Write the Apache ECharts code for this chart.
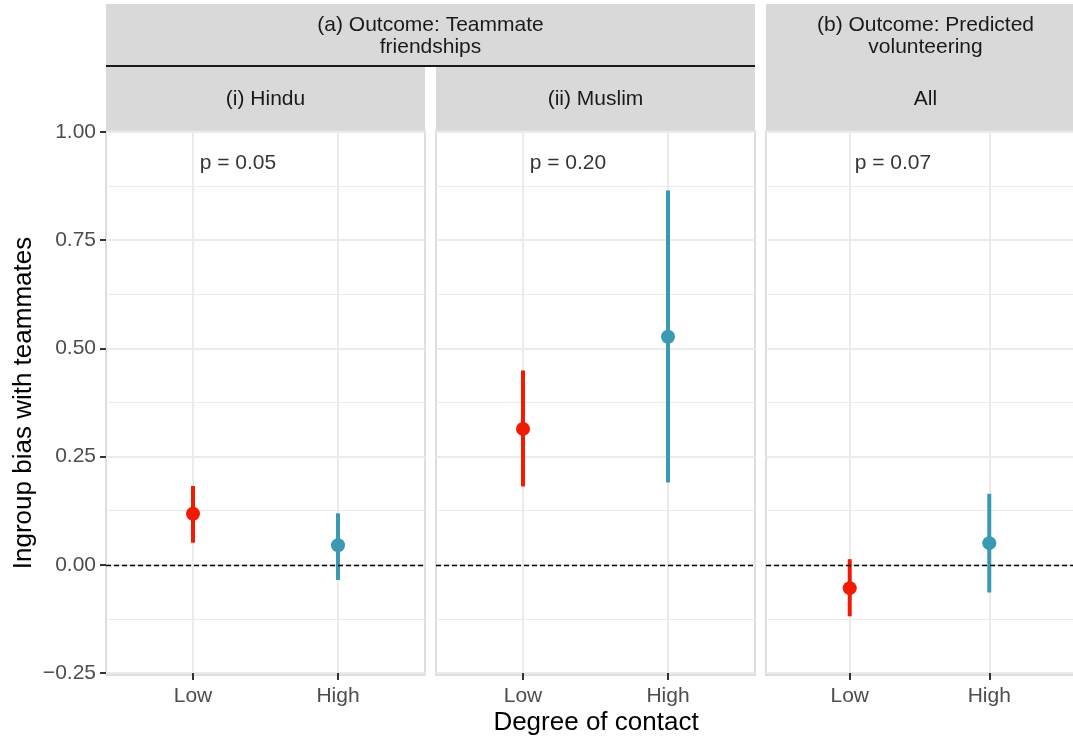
<!DOCTYPE html>
<html>
<head>
<meta charset="utf-8">
<title>Ingroup bias with teammates by degree of contact</title>
<script src="https://cdn.jsdelivr.net/npm/echarts@6/dist/echarts.min.js"></script>
<style>
  html, body { margin: 0; padding: 0; background: #ffffff; }
  #chart { width: 1073px; height: 741px; }
</style>
</head>
<body>
<div id="chart"></div>
<script>
// Contact levels on the horizontal axis
const categories = ['Low', 'High'];

// Facet labels
const panelLabels = ['(i) Hindu', '(ii) Muslim', 'All'];
const outcomeA = '(a) Outcome: Teammate\nfriendships';
const outcomeB = '(b) Outcome: Predicted\nvolunteering';

// Point estimates (Low, High) per panel
const estHindu = [0.118, 0.045];
const estMuslim = [0.314, 0.527];
const estAll = [-0.054, 0.050];

// Lower ends of the intervals
const lowHindu = [0.051, -0.035];
const lowMuslim = [0.181, 0.190];
const lowAll = [-0.119, -0.064];

// Upper ends of the intervals
const highHindu = [0.182, 0.119];
const highMuslim = [0.449, 0.865];
const highAll = [0.013, 0.164];

// Difference tests shown in each panel
const pLabels = ['p = 0.05', 'p = 0.20', 'p = 0.07'];
const pLabelPos = [1.31, 0.927];

// Y axis ticks
const yTicks = [-0.25, 0, 0.25, 0.5, 0.75, 1.0];

const colors = ['#F21A00', '#3B9AB2'];
const FONT = '"Liberation Sans", Arial, Helvetica, sans-serif';

const estimates = [estHindu, estMuslim, estAll];
const lows = [lowHindu, lowMuslim, lowAll];
const highs = [highHindu, highMuslim, highAll];

// Panel geometry (pixels)
const panelLefts = [106, 436, 766];
const panelWidth = 319;
const gridTop = 132;
const gridHeight = 541;

const grids = panelLefts.map(l => ({
  left: l, top: gridTop, width: panelWidth, height: gridHeight,
  containLabel: false, show: false
}));

const xAxes = panelLefts.map((l, i) => ({
  type: 'value', gridIndex: i, min: 0.4, max: 2.6,
  axisLine: { show: false, onZero: false },
  axisTick: { show: true, customValues: [1, 2], length: 7, lineStyle: { color: '#333333', width: 2 } },
  axisLabel: {
    show: true, customValues: [1, 2], margin: 13,
    formatter: v => categories[Math.round(v) - 1] || '',
    color: '#4D4D4D', fontSize: 21, fontFamily: FONT
  },
  splitLine: { show: true, lineStyle: { color: '#EBEBEB', width: 2 } },
  minorSplitLine: { show: false }
}));

const yAxes = panelLefts.map((l, i) => ({
  type: 'value', gridIndex: i, min: yTicks[0], max: yTicks[yTicks.length - 1], interval: 0.25,
  axisLine: { show: false, onZero: false },
  axisTick: { show: i === 0, length: 6, lineStyle: { color: '#333333', width: 2 } },
  axisLabel: {
    show: i === 0, margin: 10,
    formatter: v => (v < 0 ? '\u2212' : '') + Math.abs(v).toFixed(2),
    color: '#4D4D4D', fontSize: 21, fontFamily: FONT
  },
  splitLine: { show: true, lineStyle: { color: '#EBEBEB', width: 2 } },
  minorTick: { show: false, splitNumber: 2 },
  minorSplitLine: { show: true, lineStyle: { color: '#EBEBEB', width: 1 } }
}));

const series = [];
for (let i = 0; i < 3; i++) {
  // p-value label plus dashed reference line at zero
  series.push({
    type: 'scatter', xAxisIndex: i, yAxisIndex: i, z: 1, silent: true,
    symbolSize: 0,
    data: [[pLabelPos[0], pLabelPos[1], pLabels[i]]],
    label: {
      show: true, position: 'inside', formatter: p => p.data[2],
      color: '#000000', fontSize: 21, fontFamily: FONT
    },
    markLine: {
      silent: true, symbol: 'none', animation: false,
      label: { show: false },
      lineStyle: { color: '#000000', type: [5, 3], width: 1.3 },
      data: [{ yAxis: 0 }]
    }
  });
  // Interval bars
  series.push({
    type: 'custom', xAxisIndex: i, yAxisIndex: i, z: 3, silent: true,
    data: categories.map((c, k) => [k + 1, lows[i][k], highs[i][k]]),
    renderItem: (params, api) => {
      const a = api.coord([api.value(0), api.value(1)]);
      const b = api.coord([api.value(0), api.value(2)]);
      return {
        type: 'line',
        shape: { x1: a[0], y1: a[1], x2: b[0], y2: b[1] },
        style: { stroke: colors[params.dataIndex], lineWidth: 4, lineCap: 'butt' }
      };
    }
  });
  // Point estimates
  series.push({
    type: 'scatter', xAxisIndex: i, yAxisIndex: i, z: 4, silent: true,
    symbol: 'circle', symbolSize: 14,
    data: categories.map((c, k) => [k + 1, estimates[i][k]]),
    itemStyle: { color: p => colors[p.dataIndex], opacity: 1 }
  });
}

// Facet strips, panel borders and axis titles
const stripFill = '#D9D9D9';
const stripText = { fill: '#1A1A1A', fontSize: 21, fontFamily: FONT, align: 'center', verticalAlign: 'middle', lineHeight: 22 };
const graphics = [];
// panel borders
panelLefts.forEach(l => {
  graphics.push({
    type: 'rect', z: 0, silent: true,
    shape: { x: l, y: 131, width: panelWidth, height: 544 },
    style: { fill: 'none', stroke: '#D3D3D3', lineWidth: 1.5 }
  });
});
// outcome (a) strip spanning first two panels
graphics.push({ type: 'rect', silent: true, shape: { x: 106, y: 4, width: 649, height: 62 }, style: { fill: stripFill } });
graphics.push({ type: 'text', silent: true, style: Object.assign({ x: 430.5, y: 36, text: outcomeA }, stripText) });
graphics.push({ type: 'line', silent: true, shape: { x1: 106, y1: 66, x2: 755, y2: 66 }, style: { stroke: '#1A1A1A', lineWidth: 2 } });
// group strips
[0, 1].forEach(i => {
  graphics.push({ type: 'rect', silent: true, shape: { x: panelLefts[i], y: 67, width: panelWidth, height: 63 }, style: { fill: stripFill } });
  graphics.push({ type: 'text', silent: true, style: Object.assign({ x: panelLefts[i] + panelWidth / 2, y: 99, text: panelLabels[i] }, stripText) });
});
// outcome (b) strip
graphics.push({ type: 'rect', silent: true, shape: { x: panelLefts[2], y: 4, width: panelWidth, height: 126 }, style: { fill: stripFill } });
graphics.push({ type: 'text', silent: true, style: Object.assign({ x: panelLefts[2] + panelWidth / 2, y: 36, text: outcomeB }, stripText) });
graphics.push({ type: 'text', silent: true, style: Object.assign({ x: panelLefts[2] + panelWidth / 2, y: 99, text: panelLabels[2] }, stripText) });
// axis titles
graphics.push({
  type: 'text', silent: true, x: 596, y: 723,
  style: { text: 'Degree of contact', fill: '#000000', fontSize: 26, fontFamily: FONT, align: 'center', verticalAlign: 'middle' }
});
graphics.push({
  type: 'text', silent: true, x: 24, y: 403, rotation: Math.PI / 2,
  style: { text: 'Ingroup bias with teammates', fill: '#000000', fontSize: 26, fontFamily: FONT, align: 'center', verticalAlign: 'middle' }
});

const chart = echarts.init(document.getElementById('chart'), null, { renderer: 'canvas' });
chart.setOption({
  animation: false,
  backgroundColor: '#ffffff',
  grid: grids,
  xAxis: xAxes,
  yAxis: yAxes,
  series: series,
  graphic: graphics
});
</script>
</body>
</html>
